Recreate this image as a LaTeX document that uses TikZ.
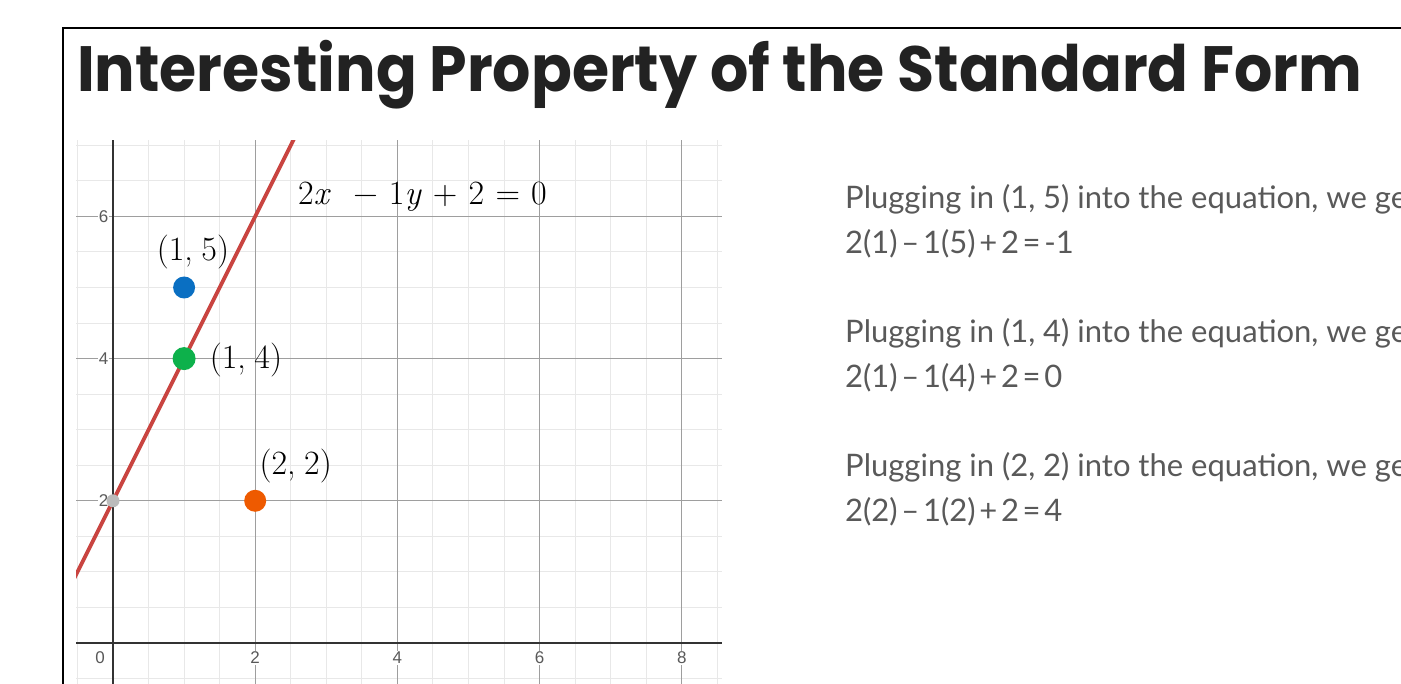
\documentclass[tikz,border=0pt]{standalone}
\usepackage{fontspec}
\setmainfont{Lato}
\newfontfamily\titlefont[FakeStretch=0.94]{Poppins}
\newfontfamily\tickfont{Liberation Sans}
\newfontfamily\lmfont{Latin Modern Roman}
\usetikzlibrary{positioning}

\definecolor{linered}{HTML}{C94440}
\definecolor{ptblue}{HTML}{0A6FC2}
\definecolor{ptgreen}{HTML}{0DB14B}
\definecolor{ptorange}{HTML}{EE5A00}
\definecolor{ptgray}{HTML}{BBBBBB}
\definecolor{textgray}{HTML}{595959}
\definecolor{titleblack}{HTML}{222222}

\newcommand{\opgap}{\hspace{0.33em}}
\newcommand{\tightspaces}{\setlength{\spaceskip}{0.12em}}

\tikzset{
  ptdot/.style={circle, inner sep=0pt, minimum size=22pt},
  ptlabel/.style={font=\lmfont\fontsize{34}{38}\selectfont, inner sep=0pt},
  ticklabel/.style={font=\tickfont\fontsize{17}{18}\selectfont, text=black!65, fill=white, inner sep=1pt},
  bodytext/.style={font=\fontsize{31}{36}\selectfont, text=textgray, anchor=base west, inner sep=0pt},
  gridminor/.style={draw=black!9, line width=1pt},
  gridmajor/.style={draw=black!38, line width=1.2pt},
  axisline/.style={draw=black!80, line width=2pt}
}

\begin{document}
\begin{tikzpicture}[x=1pt,y=1pt]
    \useasboundingbox (0,0) rectangle (1401,684);
    \clip (0,0) rectangle (1401,684);

    % the frame
    \draw[line width=2pt] (63,656) rectangle (1430,-30);

    % the title
    \node[font=\titlefont\bfseries\fontsize{64}{70}\selectfont, text=titleblack,
          anchor=base west, inner sep=0pt] (title) at (77,592) {Interesting Property of the Standard Form};

    % the graph (origin of the plane at the crossing of the axes)
    \begin{scope}[shift={(113,41)}, x=71.1pt, y=71.1pt]
        % the grid
        \begin{scope}
            \clip (-0.52,-1) rectangle (8.57,7.07);
            \foreach \i in {-0.5,0,...,8.5} \draw[gridminor] (\i,-1) -- (\i,7.07);
            \foreach \j in {-0.5,0,...,7} \draw[gridminor] (-0.52,\j) -- (8.57,\j);
            \foreach \i in {2,4,6,8} \draw[gridmajor] (\i,-1) -- (\i,7.07);
            \foreach \j in {2,4,6} \draw[gridmajor] (-0.52,\j) -- (8.57,\j);
        \end{scope}

        % the axes
        \draw[axisline] (-0.52,0) -- (8.57,0);
        \draw[axisline] (0,-1) -- (0,7.07);

        % the tick labels
        \foreach \v in {2,4,6} \node[ticklabel, anchor=east] (ty\v) at (-0.05,\v) {\v};
        \foreach \v in {2,4,6,8} \node[ticklabel] (tx\v) at (\v,-0.21) {\v};
        \node[ticklabel] (tx0) at (-0.18,-0.21) {0};

        % the line 2x - 1y + 2 = 0
        \begin{scope}
            \clip (-0.52,-1) rectangle (8.57,7.07);
            \draw[linered, line width=3.8pt] plot[domain=-0.6:2.6] (\x,{2*\x+2});
        \end{scope}
        \node[ptlabel, anchor=west] (eq) at (2.6,6.27)
            {2\textit{x}\opgap\opgap−\opgap1\textit{y}\opgap+\opgap2\opgap=\opgap0};

        % the points
        \node[ptdot, fill=ptgray, minimum size=13pt] (p02) at (0,2) {};
        \node[ptdot, fill=ptblue] (p15) at (1,5) {};
        \node[ptdot, fill=ptgreen, minimum size=23pt] (p14) at (1,4) {};
        \node[ptdot, fill=ptorange] (p22) at (2,2) {};

        % the point labels
        \node[ptlabel] (l15) at (1.125,5.5) {(1,\hspace{0.25em}5)};
        \node[ptlabel] (l14) at (1.87,3.98) {(1,\hspace{0.25em}4)};
        \node[ptlabel] (l22) at (2.57,2.49) {(2,\hspace{0.25em}2)};
    \end{scope}

    % the texts on the right
    \node[bodytext] (plug15) at (845,475) {Plugging in (1, 5) into the equation, we get};
    \node[bodytext] (res15) at (845,430) {\tightspaces 2(1) – 1(5) + 2 = -1};
    \node[bodytext] (plug14) at (845,341) {Plugging in (1, 4) into the equation, we get};
    \node[bodytext] (res14) at (845,296) {\tightspaces 2(1) – 1(4) + 2 = 0};
    \node[bodytext] (plug22) at (845,207) {Plugging in (2, 2) into the equation, we get};
    \node[bodytext] (res22) at (845,162) {\tightspaces 2(2) – 1(2) + 2 = 4};

\end{tikzpicture}
\end{document}
